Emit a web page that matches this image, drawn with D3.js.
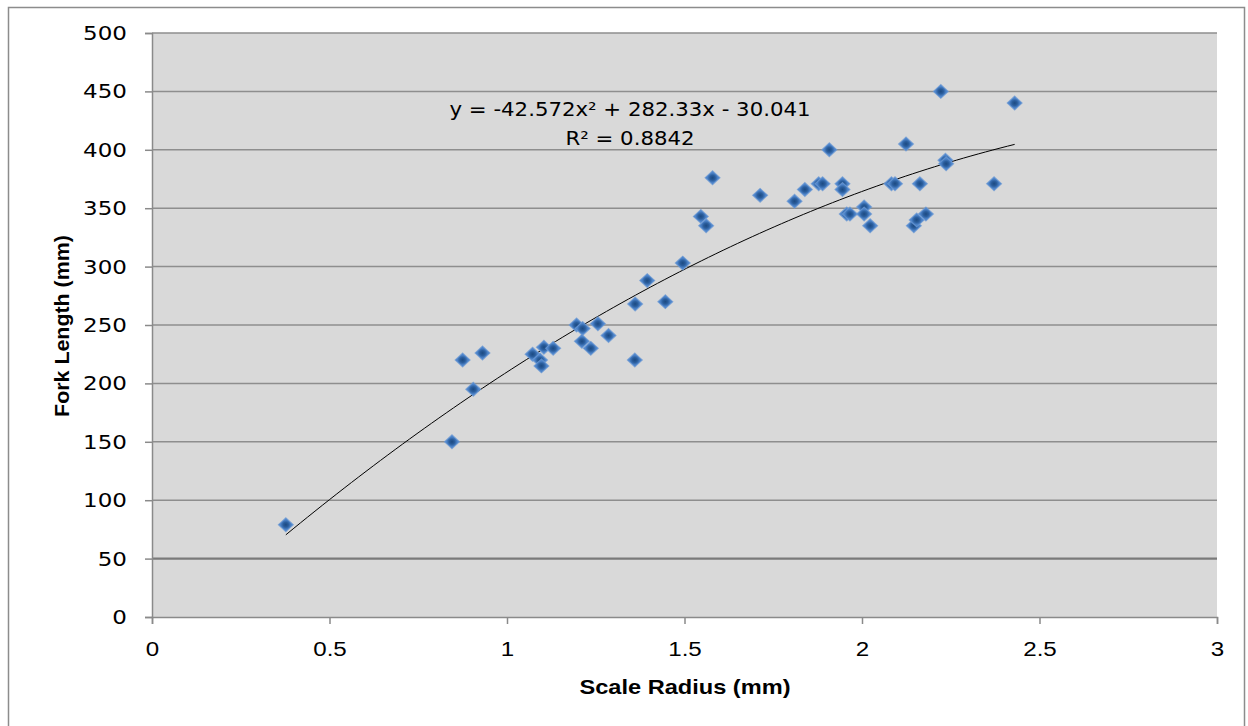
<!DOCTYPE html>
<html>
<head>
<meta charset="utf-8">
<script src="https://cdn.jsdelivr.net/npm/d3@7"></script>
<style>
  body { margin: 0; background: #fff; }
  svg { display: block; }
</style>
</head>
<body>
<div id="chart"></div>
<script>
// Scale radius (mm) vs fork length (mm)
var scaleRadius = [0.377, 0.845, 0.875, 0.905, 0.931, 1.072, 1.093, 1.097, 1.104, 1.13,
  1.196, 1.213, 1.211, 1.236, 1.256, 1.286, 1.36, 1.361, 1.395, 1.446,
  1.495, 1.546, 1.561, 1.579, 1.713, 1.81, 1.839, 1.878, 1.889, 1.908,
  1.945, 1.945, 1.957, 1.966, 2.006, 2.006, 2.023, 2.083, 2.093, 2.124,
  2.146, 2.154, 2.163, 2.18, 2.222, 2.235, 2.237, 2.372, 2.43];
var forkLength = [79, 150, 220, 195, 226, 225, 220, 215, 231, 230,
  250, 247, 236, 230, 251, 241, 220, 268, 288, 270,
  303, 343, 335, 376, 361, 356, 366, 371, 371, 400,
  371, 366, 345, 345, 351, 345, 335, 371, 371, 405,
  335, 340, 371, 345, 450, 391, 388, 371, 440];

// polynomial trendline shown on the chart
var trendCoef = [-30.041, 282.33, -42.572];
var trendLabel = ["y = -42.572x\u00b2 + 282.33x - 30.041", "R\u00b2 = 0.8842"];

var xTicks = [0, 0.5, 1, 1.5, 2, 2.5, 3];
var yTicks = [0, 50, 100, 150, 200, 250, 300, 350, 400, 450, 500];

var W = 1248, H = 726;
var plot = {left: 152, right: 1217, top: 33, bottom: 617};
var stretch = 1.15; // the original text is a little wide

var svg = d3.select("#chart").append("svg")
    .attr("width", W)
    .attr("height", H);

// outer chart border
svg.append("rect")
    .attr("x", 8.5).attr("y", 7.5)
    .attr("width", 1236).attr("height", 740)
    .attr("fill", "#fff")
    .attr("stroke", "#8c8c8c")
    .attr("stroke-width", 1.5);

var x = d3.scaleLinear().domain([0, 3]).range([plot.left, plot.right]);
var y = d3.scaleLinear().domain([0, 500]).range([plot.bottom, plot.top]);

svg.append("rect")
    .attr("x", plot.left).attr("y", plot.top)
    .attr("width", plot.right - plot.left)
    .attr("height", plot.bottom - plot.top)
    .attr("fill", "#d9d9d9");

// horizontal gridlines
svg.append("g")
  .selectAll("line")
  .data(yTicks.filter(d => d > 0))
  .enter().append("line")
    .attr("x1", plot.left).attr("x2", plot.right)
    .attr("y1", d => y(d)).attr("y2", d => y(d))
    .attr("stroke", d => d == 50 ? "#7a7a7a" : "#8e8e8e")
    .attr("stroke-width", d => d == 50 ? 2.2 : 1.5);

// y axis
var yAxis = svg.append("g")
    .attr("transform", "translate(" + plot.left + ",0)")
    .call(d3.axisLeft(y).tickValues(yTicks).tickSize(7).tickPadding(18));
yAxis.select(".domain").attr("stroke", "#8a8a8a").attr("stroke-width", 1.5);
yAxis.selectAll(".tick line").attr("stroke", "#8a8a8a").attr("stroke-width", 1.5);
yAxis.selectAll("text")
    .attr("x", 0)
    .attr("transform", "translate(-25,0) scale(" + stretch + ",1)")
    .attr("font-family", "DejaVu Sans, Verdana, sans-serif")
    .attr("font-size", 20)
    .attr("fill", "#000");

// x axis
var xAxis = svg.append("g")
    .attr("transform", "translate(0," + plot.bottom + ")")
    .call(d3.axisBottom(x).tickValues(xTicks).tickSize(7).tickPadding(17)
      .tickFormat(d => String(d)));
xAxis.select(".domain").attr("stroke", "#8a8a8a").attr("stroke-width", 1.5);
xAxis.selectAll(".tick line").attr("stroke", "#8a8a8a").attr("stroke-width", 1.5);
xAxis.selectAll("text")
    .attr("transform", "scale(" + stretch + ",1)")
    .attr("font-family", "Liberation Sans, Arial, sans-serif")
    .attr("font-size", 21)
    .attr("fill", "#000");

// trendline
var xMin = d3.min(scaleRadius), xMax = d3.max(scaleRadius);
var trendPts = d3.range(0, 101).map(function(i) {
  var xv = xMin + (xMax - xMin) * i / 100;
  return [xv, trendCoef[0] + trendCoef[1] * xv + trendCoef[2] * xv * xv];
});
svg.append("path")
    .attr("fill", "none")
    .attr("stroke", "#000")
    .attr("stroke-width", 1)
    .attr("d", d3.line().x(d => x(d[0])).y(d => y(d[1]))(trendPts));

// markers
var defs = svg.append("defs");
var grad = defs.append("radialGradient").attr("id", "mk");
grad.append("stop").attr("offset", "0%").attr("stop-color", "#1c4a82");
grad.append("stop").attr("offset", "50%").attr("stop-color", "#2a5d9c");
grad.append("stop").attr("offset", "100%").attr("stop-color", "#4f86cc");

var square = d3.symbol().type(d3.symbolSquare).size(98);
svg.append("g")
  .selectAll("path")
  .data(scaleRadius.map((d, i) => [d, forkLength[i]]))
  .enter().append("path")
    .attr("d", square)
    .attr("transform", d => "translate(" + x(d[0]) + "," + y(d[1]) + ") scale(1.08,1) rotate(45)")
    .attr("fill", "url(#mk)")
    .attr("stroke", "#6f9bd4")
    .attr("stroke-width", 1)
    .attr("stroke-opacity", 0.7);

// trendline label
svg.append("g")
  .selectAll("text")
  .data(trendLabel)
  .enter().append("text")
    .attr("x", 0)
    .attr("y", (d, i) => 116 + i * 29)
    .attr("transform", "translate(630,0) scale(1.12,1)")
    .attr("text-anchor", "middle")
    .attr("font-family", "DejaVu Sans, sans-serif")
    .attr("font-size", 19)
    .attr("fill", "#000")
    .text(d => d);

// axis titles
svg.append("text")
    .attr("x", 0).attr("y", 694)
    .attr("transform", "translate(685,0) scale(1.18,1)")
    .attr("text-anchor", "middle")
    .attr("font-family", "Liberation Sans, Arial, sans-serif")
    .attr("font-weight", "bold")
    .attr("font-size", 20)
    .text("Scale Radius (mm)");

svg.append("text")
    .attr("transform", "translate(69,326) rotate(-90) scale(1.07,1)")
    .attr("text-anchor", "middle")
    .attr("font-family", "Liberation Sans, Arial, sans-serif")
    .attr("font-weight", "bold")
    .attr("font-size", 20)
    .text("Fork Length (mm)");
</script>
</body>
</html>
